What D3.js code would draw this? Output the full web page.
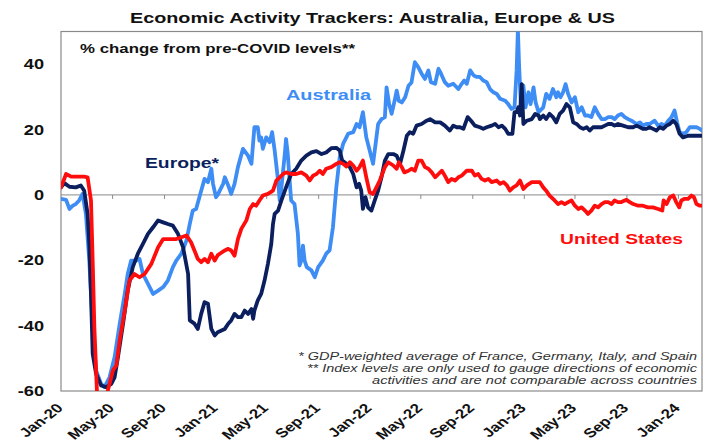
<!DOCTYPE html>
<html><head><meta charset="utf-8">
<script src="https://cdn.jsdelivr.net/npm/d3@7"></script>
<style>body{margin:0;background:#fff}svg{display:block}text{font-family:"Liberation Sans",Arial,sans-serif}</style>
</head><body><svg id="c" width="714" height="443"></svg>
<script>
const title = "Economic Activity Trackers: Australia, Europe & US";
const subtitle = "% change from pre-COVID levels**";
const seriesNames = ["Australia", "Europe*", "United States"];
const seriesColors = ["#3d8df5", "#0b1f5e", "#ff0d0d"];
const footnotes = [
  "* GDP-weighted average of France, Germany, Italy, and Spain",
  "** Index levels are only used to gauge directions of economic",
  "activities and are not comparable across countries"
];
const yTicks = [-60, -40, -20, 0, 20, 40];
const xTickDates = ["2020-01-01","2020-05-01","2020-09-01","2021-01-01","2021-05-01","2021-09-01","2022-01-01","2022-05-01","2022-09-01","2023-01-01","2023-05-01","2023-09-01","2024-01-01"];

const australia = [
["2020-01-01",-1.2],["2020-01-13",-1.5],["2020-01-21",-4.3],["2020-01-29",-3.3],["2020-02-05",-2.8],["2020-02-13",-1.7],["2020-02-21",0.3],["2020-02-29",-5.8],["2020-03-08",-20.1],["2020-03-16",-40.5],["2020-03-24",-53.7],["2020-04-05",-57.8],["2020-04-13",-58.8],["2020-04-25",-55.8],["2020-05-07",-49.6],["2020-05-19",-39.4],["2020-05-31",-30.3],["2020-06-07",-24.2],["2020-06-15",-20.1],["2020-06-27",-20.1],["2020-07-05",-19.6],["2020-07-13",-24.2],["2020-07-25",-27.2],["2020-08-06",-30.3],["2020-08-18",-29.3],["2020-08-30",-28.2],["2020-09-10",-26.2],["2020-09-22",-22.1],["2020-09-30",-20.1],["2020-10-12",-18.0],["2020-10-24",-14.0],["2020-11-01",-8.9],["2020-11-08",-4.8],["2020-11-16",-4.3],["2020-11-28",1.3],["2020-12-06",4.9],["2020-12-14",3.9],["2020-12-22",8.0],["2020-12-26",3.4],["2021-01-02",-0.7],["2021-01-06",0.0],["2021-01-11",1.3],["2021-01-19",3.4],["2021-01-23",5.4],["2021-01-31",2.9],["2021-02-07",0.3],["2021-02-15",3.4],["2021-02-23",8.5],["2021-03-07",14.1],["2021-03-19",12.0],["2021-03-27",9.5],["2021-04-03",20.7],["2021-04-11",20.7],["2021-04-15",16.6],["2021-04-19",17.6],["2021-04-23",14.1],["2021-05-01",17.6],["2021-05-09",16.1],["2021-05-15",19.2],["2021-05-21",13.6],["2021-05-29",4.4],["2021-06-02",-1.7],["2021-06-06",2.3],["2021-06-14",12.5],["2021-06-17",17.1],["2021-06-21",12.5],["2021-06-29",-1.7],["2021-07-07",-2.8],["2021-07-15",-11.9],["2021-07-19",-21.6],["2021-07-23",-20.1],["2021-07-27",-15.5],["2021-07-31",-20.1],["2021-08-05",-22.1],["2021-08-16",-23.1],["2021-08-24",-25.2],["2021-09-01",-22.1],["2021-09-12",-20.1],["2021-09-20",-18.0],["2021-09-28",-17.0],["2021-10-06",-9.9],["2021-10-14",2.3],["2021-10-22",11.5],["2021-10-30",15.6],["2021-11-11",18.7],["2021-11-23",19.2],["2021-12-01",21.7],["2021-12-08",20.7],["2021-12-16",25.3],["2021-12-24",17.6],["2022-01-01",13.6],["2022-01-09",9.5],["2022-01-15",15.6],["2022-01-21",21.7],["2022-01-29",23.2],["2022-02-06",23.8],["2022-02-10",32.9],["2022-02-16",27.8],["2022-02-22",24.8],["2022-03-02",29.4],["2022-03-06",31.9],["2022-03-11",28.8],["2022-03-18",28.3],["2022-03-26",29.9],["2022-04-03",33.4],["2022-04-10",34.4],["2022-04-18",40.6],["2022-04-26",39.1],["2022-05-04",37.1],["2022-05-12",35.5],["2022-05-20",38.1],["2022-05-26",34.5],["2022-06-05",34.0],["2022-06-13",38.6],["2022-06-19",37.1],["2022-06-28",34.5],["2022-07-06",33.4],["2022-07-18",34.0],["2022-07-30",32.4],["2022-08-07",34.0],["2022-08-13",35.0],["2022-08-19",34.0],["2022-08-27",38.1],["2022-09-04",36.6],["2022-09-11",36.1],["2022-09-19",36.1],["2022-09-27",35.0],["2022-10-05",34.5],["2022-10-13",32.4],["2022-10-21",31.4],["2022-10-29",30.9],["2022-11-06",29.4],["2022-11-18",28.8],["2022-11-25",27.8],["2022-12-03",26.3],["2022-12-10",26.8],["2022-12-15",38.1],["2022-12-18",50.5],["2022-12-21",39.1],["2022-12-25",27.8],["2022-12-31",33.4],["2023-01-05",26.8],["2023-01-12",31.4],["2023-01-17",27.8],["2023-01-24",32.9],["2023-01-29",28.3],["2023-02-05",25.3],["2023-02-16",26.8],["2023-02-23",30.9],["2023-03-03",29.4],["2023-03-11",32.4],["2023-03-19",29.9],["2023-03-23",31.4],["2023-03-29",29.9],["2023-04-04",31.4],["2023-04-10",33.9],["2023-04-16",30.9],["2023-04-24",28.3],["2023-05-02",29.9],["2023-05-10",25.3],["2023-05-18",26.8],["2023-05-26",24.3],["2023-06-02",24.3],["2023-06-10",23.8],["2023-06-18",26.8],["2023-06-26",24.8],["2023-07-04",23.2],["2023-07-12",23.2],["2023-07-20",23.8],["2023-07-28",23.8],["2023-08-04",23.2],["2023-08-12",24.3],["2023-08-20",24.8],["2023-08-28",23.8],["2023-09-05",23.2],["2023-09-13",22.7],["2023-09-25",21.7],["2023-10-03",22.2],["2023-10-10",21.2],["2023-10-18",21.7],["2023-10-26",21.7],["2023-11-07",22.7],["2023-11-15",21.2],["2023-11-23",21.7],["2023-12-01",21.2],["2023-12-09",22.7],["2023-12-17",23.8],["2023-12-24",25.8],["2023-12-30",22.2],["2024-01-05",19.2],["2024-01-13",18.7],["2024-01-21",19.2],["2024-01-29",20.7],["2024-02-06",20.7],["2024-02-14",20.7],["2024-02-22",20.2],["2024-02-27",19.7]
];

const europe = [
["2020-01-01",2.3],["2020-01-09",3.6],["2020-01-21",2.5],["2020-02-05",2.3],["2020-02-17",2.9],["2020-02-25",1.3],["2020-03-04",-5.8],["2020-03-08",-15.0],["2020-03-12",-30.3],["2020-03-16",-48.6],["2020-03-24",-54.7],["2020-04-05",-58.3],["2020-04-17",-58.8],["2020-04-29",-57.8],["2020-05-07",-55.8],["2020-05-15",-49.6],["2020-05-27",-39.4],["2020-06-07",-29.3],["2020-06-19",-22.1],["2020-07-01",-18.0],["2020-07-13",-15.0],["2020-07-25",-11.9],["2020-08-06",-9.9],["2020-08-18",-7.8],["2020-08-30",-8.4],["2020-09-10",-8.9],["2020-09-22",-9.4],["2020-10-04",-11.9],["2020-10-16",-16.0],["2020-10-28",-24.2],["2020-11-01",-38.4],["2020-11-12",-39.4],["2020-11-20",-41.0],["2020-11-28",-36.4],["2020-12-06",-32.8],["2020-12-14",-33.3],["2020-12-22",-41.0],["2020-12-30",-43.0],["2021-01-06",-42.0],["2021-01-23",-41.0],["2021-01-31",-39.4],["2021-02-07",-38.4],["2021-02-15",-36.4],["2021-02-23",-37.4],["2021-03-03",-37.4],["2021-03-11",-35.4],["2021-03-19",-36.4],["2021-03-27",-34.9],["2021-03-31",-37.9],["2021-04-03",-35.4],["2021-04-11",-32.3],["2021-04-19",-30.3],["2021-04-27",-26.2],["2021-05-05",-21.1],["2021-05-13",-15.0],["2021-05-17",-8.9],["2021-05-21",-5.8],["2021-05-29",-4.8],["2021-06-06",-1.7],["2021-06-17",2.3],["2021-06-29",6.4],["2021-07-11",8.0],["2021-07-23",10.5],["2021-08-04",12.0],["2021-08-16",13.0],["2021-08-28",13.4],["2021-09-09",12.5],["2021-09-20",13.0],["2021-10-02",14.3],["2021-10-14",14.4],["2021-10-22",13.6],["2021-10-28",10.5],["2021-11-07",9.5],["2021-11-15",8.5],["2021-11-23",6.4],["2021-12-01",2.3],["2021-12-07",3.4],["2021-12-12",1.3],["2021-12-16",-4.3],["2021-12-22",-0.7],["2021-12-28",-3.8],["2022-01-05",-4.8],["2022-01-13",-1.7],["2022-01-21",1.3],["2022-01-29",5.4],["2022-02-06",10.5],["2022-02-14",12.5],["2022-02-26",12.5],["2022-03-06",12.0],["2022-03-14",9.5],["2022-03-22",13.6],["2022-03-30",18.1],["2022-04-06",19.2],["2022-04-14",18.7],["2022-04-22",21.2],["2022-05-04",21.7],["2022-05-16",22.7],["2022-05-24",23.2],["2022-06-05",22.2],["2022-06-17",22.2],["2022-06-28",21.2],["2022-07-10",19.7],["2022-07-18",21.2],["2022-07-26",20.7],["2022-08-03",20.7],["2022-08-11",20.2],["2022-08-21",23.8],["2022-08-29",22.7],["2022-09-07",21.2],["2022-09-19",20.7],["2022-09-27",20.2],["2022-10-05",20.7],["2022-10-17",21.2],["2022-10-25",21.7],["2022-11-02",20.7],["2022-11-10",21.2],["2022-11-18",20.2],["2022-11-25",18.7],["2022-12-05",18.7],["2022-12-10",25.3],["2022-12-15",25.3],["2022-12-19",26.8],["2022-12-23",24.3],["2022-12-27",33.9],["2022-12-31",21.7],["2023-01-08",22.7],["2023-01-20",23.2],["2023-01-28",24.8],["2023-02-05",24.3],["2023-02-08",23.2],["2023-02-16",24.3],["2023-02-23",23.2],["2023-03-03",24.8],["2023-03-11",23.8],["2023-03-19",22.2],["2023-03-27",24.8],["2023-04-04",25.8],["2023-04-12",27.8],["2023-04-20",26.8],["2023-04-28",22.2],["2023-05-06",21.7],["2023-05-14",20.7],["2023-05-22",20.2],["2023-05-30",20.7],["2023-06-06",19.7],["2023-06-14",20.7],["2023-06-26",20.7],["2023-07-04",20.7],["2023-07-12",21.2],["2023-07-20",21.7],["2023-07-28",21.7],["2023-08-04",21.2],["2023-08-12",21.7],["2023-08-24",21.2],["2023-09-05",20.7],["2023-09-17",20.7],["2023-09-25",21.2],["2023-10-03",20.7],["2023-10-10",20.2],["2023-10-18",20.2],["2023-10-26",20.7],["2023-11-03",20.2],["2023-11-11",19.7],["2023-11-19",20.7],["2023-11-27",20.2],["2023-12-05",21.2],["2023-12-13",21.7],["2023-12-21",22.7],["2023-12-28",21.7],["2024-01-05",18.7],["2024-01-13",17.6],["2024-01-25",18.1],["2024-02-06",18.1],["2024-02-18",18.1],["2024-02-27",18.1]
];

const unitedStates = [
["2020-01-01",2.3],["2020-01-13",6.4],["2020-01-25",5.6],["2020-02-13",5.6],["2020-02-25",5.6],["2020-03-04",5.4],["2020-03-12",-1.7],["2020-03-16",-20.1],["2020-03-20",-40.5],["2020-03-26",-59.8],["2020-04-01",-64],["2020-04-09",-66],["2020-04-17",-63],["2020-04-21",-59.8],["2020-05-03",-53.7],["2020-05-11",-52.2],["2020-05-19",-44.5],["2020-05-31",-35.4],["2020-06-11",-26.2],["2020-06-23",-24.2],["2020-07-05",-25.2],["2020-07-17",-24.2],["2020-08-02",-21.1],["2020-08-18",-16.0],["2020-08-30",-13.5],["2020-09-14",-13.5],["2020-09-30",-13.5],["2020-10-24",-12.4],["2020-11-04",-14.5],["2020-11-12",-17.0],["2020-11-20",-19.6],["2020-11-28",-20.6],["2020-12-06",-19.6],["2020-12-14",-20.6],["2020-12-22",-18.0],["2020-12-30",-20.1],["2021-01-06",-18.5],["2021-01-11",-18.0],["2021-01-23",-17.0],["2021-01-31",-16.5],["2021-02-07",-17.0],["2021-02-15",-18.6],["2021-02-23",-13.5],["2021-03-03",-10.4],["2021-03-15",-7.8],["2021-03-23",-4.3],["2021-03-31",-2.8],["2021-04-07",-3.3],["2021-04-15",-1.7],["2021-04-23",-0.2],["2021-05-05",0.3],["2021-05-17",1.3],["2021-05-25",4.4],["2021-06-02",5.4],["2021-06-10",6.4],["2021-06-17",6.9],["2021-06-29",6.4],["2021-07-11",6.4],["2021-07-23",6.9],["2021-08-04",5.9],["2021-08-12",4.4],["2021-08-20",5.9],["2021-08-28",6.4],["2021-09-05",7.4],["2021-09-12",6.4],["2021-09-20",8.0],["2021-10-02",8.5],["2021-10-14",9.5],["2021-10-22",10.0],["2021-10-30",9.5],["2021-11-07",8.7],["2021-11-15",10.0],["2021-11-23",9.0],["2021-12-01",7.4],["2021-12-08",8.5],["2021-12-16",10.5],["2021-12-24",5.4],["2022-01-01",0.8],["2022-01-09",0.3],["2022-01-17",2.3],["2022-01-25",4.4],["2022-02-06",8.5],["2022-02-14",10.0],["2022-02-26",9.0],["2022-03-06",8.0],["2022-03-11",10.0],["2022-03-18",8.5],["2022-03-24",6.9],["2022-04-03",7.4],["2022-04-10",8.0],["2022-04-18",7.4],["2022-04-26",10.5],["2022-05-04",10.5],["2022-05-12",8.5],["2022-05-20",8.0],["2022-05-28",6.9],["2022-06-05",5.4],["2022-06-13",6.4],["2022-06-21",7.4],["2022-06-28",5.9],["2022-07-06",3.9],["2022-07-14",4.9],["2022-07-22",4.4],["2022-07-30",5.4],["2022-08-07",5.9],["2022-08-19",7.4],["2022-08-31",7.4],["2022-09-07",5.9],["2022-09-15",6.4],["2022-09-23",4.9],["2022-10-01",4.4],["2022-10-09",4.9],["2022-10-17",3.9],["2022-10-29",4.4],["2022-11-06",3.4],["2022-11-14",3.9],["2022-11-22",2.9],["2022-11-29",1.3],["2022-12-07",2.3],["2022-12-15",2.9],["2022-12-23",4.4],["2022-12-31",1.8],["2023-01-08",2.9],["2023-01-20",3.9],["2023-02-01",3.9],["2023-02-08",3.9],["2023-02-16",2.3],["2023-02-23",1.3],["2023-03-03",-0.2],["2023-03-15",-1.7],["2023-03-23",-2.8],["2023-03-31",-2.2],["2023-04-08",-2.8],["2023-04-16",-2.2],["2023-04-24",-1.7],["2023-05-02",-3.3],["2023-05-10",-4.3],["2023-05-18",-3.8],["2023-05-26",-4.8],["2023-06-02",-5.8],["2023-06-10",-4.8],["2023-06-18",-3.3],["2023-06-26",-3.8],["2023-07-04",-2.8],["2023-07-12",-2.2],["2023-07-20",-2.2],["2023-07-28",-2.8],["2023-08-04",-1.7],["2023-08-12",-2.2],["2023-08-20",-2.2],["2023-09-01",-1.5],["2023-09-09",-2.2],["2023-09-17",-2.8],["2023-09-29",-3.3],["2023-10-10",-3.3],["2023-10-22",-3.8],["2023-11-03",-3.8],["2023-11-15",-4.3],["2023-11-25",-4.8],["2023-11-28",-1.7],["2023-12-05",-2.8],["2023-12-13",-0.7],["2023-12-21",-0.2],["2023-12-28",-2.2],["2024-01-04",-3.8],["2024-01-09",-1.7],["2024-01-17",-1.2],["2024-01-25",-1.2],["2024-02-02",-0.2],["2024-02-08",-0.7],["2024-02-14",-2.8],["2024-02-22",-3.3],["2024-02-27",-3.3]
];

const parse = d3.timeParse("%Y-%m-%d");
const svg = d3.select("#c");
const plot = {left: 61, right: 702, top: 31.5, bottom: 391};

const x = d3.scaleTime()
  .domain([parse("2020-01-01"), parse("2024-02-27")])
  .range([plot.left, plot.right]);
const y = d3.scaleLinear().domain([-60, 50]).range([plot.bottom, plot.top]);

svg.append("rect").attr("width", 714).attr("height", 443).attr("fill", "#fff");

svg.append("defs").append("clipPath").attr("id", "clip")
  .append("rect").attr("x", plot.left).attr("y", plot.top)
  .attr("width", plot.right - plot.left).attr("height", plot.bottom - plot.top);

// zero line with ticks
const xAxis = d3.axisBottom(x)
  .tickValues(xTickDates.map(parse).filter((d, i) => i > 0))
  .tickSize(4).tickFormat("");
const gx = svg.append("g").attr("transform", `translate(0,${y(0)})`).call(xAxis);
gx.select(".domain").attr("stroke", "#8a8a8a").attr("stroke-width", 1)
  .attr("d", `M${plot.left},0H${plot.right}`);
gx.selectAll(".tick line").attr("stroke", "#8a8a8a");

// plot border
svg.append("rect").attr("x", plot.left).attr("y", plot.top)
  .attr("width", plot.right - plot.left).attr("height", plot.bottom - plot.top)
  .attr("fill", "none").attr("stroke", "#8a8a8a").attr("stroke-width", 1.2);

// lines
const line = d3.line().x(d => x(parse(d[0]))).y(d => y(d[1]));
const gLines = svg.append("g").attr("clip-path", "url(#clip)");
[australia, europe, unitedStates].forEach((s, i) => {
  gLines.append("path").datum(s).attr("d", line)
    .attr("fill", "none").attr("stroke", seriesColors[i])
    .attr("stroke-width", 3.8).attr("stroke-linejoin", "round").attr("stroke-linecap", "round");
});

// y labels
svg.append("g").selectAll("g").data(yTicks).join("g")
  .attr("transform", d => `translate(44,${y(d)}) scale(1.3,1)`)
  .append("text").attr("text-anchor", "end").attr("dy", "0.36em")
  .attr("font-size", 14).attr("font-weight", "bold").attr("fill", "#111")
  .text(d => d);

// x labels
const fmt = d3.timeFormat("%b-%y");
svg.append("g").selectAll("g").data(xTickDates.map(parse)).join("g")
  .attr("transform", d => `translate(${x(d) + 3},409) scale(1.3,1) rotate(-45)`)
  .append("text").attr("text-anchor", "end")
  .attr("font-size", 13).attr("font-weight", "bold").attr("fill", "#111")
  .text(d => fmt(d));

// title & subtitle
svg.append("text").attr("x", 130).attr("y", 23).attr("font-size", 14).attr("font-weight", "bold")
  .attr("textLength", 485).attr("lengthAdjust", "spacingAndGlyphs").attr("fill", "#111").text(title);
svg.append("text").attr("x", 80).attr("y", 53).attr("font-size", 13.5).attr("font-weight", "bold")
  .attr("textLength", 275).attr("lengthAdjust", "spacingAndGlyphs").attr("fill", "#111").text(subtitle);

// series labels
const labelPos = [[286, 100, 85], [145, 168, 74], [560, 243.5, 123]];
seriesNames.forEach((n, i) => {
  svg.append("text").attr("x", labelPos[i][0]).attr("y", labelPos[i][1])
    .attr("font-size", 15).attr("font-weight", "bold").attr("fill", seriesColors[i])
    .attr("textLength", labelPos[i][2]).attr("lengthAdjust", "spacingAndGlyphs").text(n);
});

// footnotes
const fnLen = [399, 390, 325];
footnotes.forEach((t, i) => {
  svg.append("text").attr("x", 697).attr("y", 360 + i * 11.8).attr("text-anchor", "end")
    .attr("font-size", 11).attr("font-style", "italic").attr("fill", "#333")
    .attr("textLength", fnLen[i]).attr("lengthAdjust", "spacingAndGlyphs").text(t);
});
</script>
</body></html>
